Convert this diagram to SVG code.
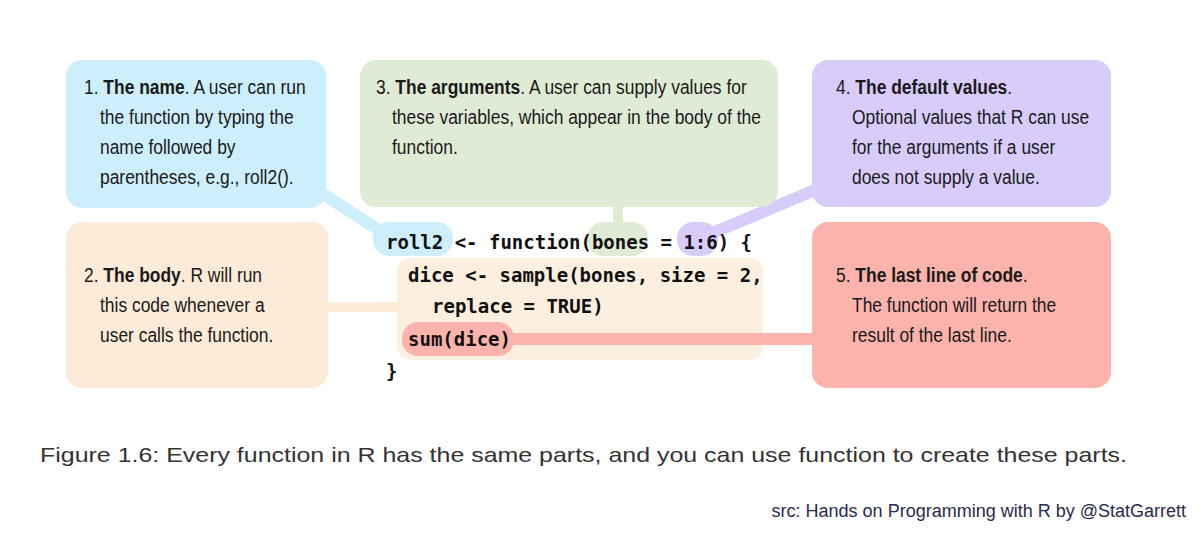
<svg xmlns="http://www.w3.org/2000/svg" width="1200" height="533" viewBox="0 0 1200 533">
<style>
.t{font-family:"Liberation Sans",Arial,sans-serif;font-size:21px;fill:#1a1a1a}
.b{font-weight:bold}
.c{font-family:"DejaVu Sans Mono",monospace;font-weight:bold;font-size:19px;fill:#111}
.cap{font-family:"Liberation Sans",Arial,sans-serif;font-size:21px;fill:#333}
.src{font-family:"Liberation Sans",Arial,sans-serif;font-size:18px;fill:#2a2a50}
</style>
<rect width="1200" height="533" fill="#fff"/>
<g id="body-block">
<rect x="397" y="258" width="366" height="102" rx="14" fill="#fdefe0"/>
</g>
<g id="connectors" fill="none" stroke-linecap="butt">
<line x1="320" y1="192" x2="385" y2="234" stroke="#cdeefb" stroke-width="12"/>
<line x1="618" y1="205" x2="618" y2="224" stroke="#e0ebd6" stroke-width="10"/>
<line x1="820" y1="188" x2="710" y2="234" stroke="#d8ccfb" stroke-width="12"/>
<line x1="326" y1="307" x2="400" y2="307" stroke="#fdebd9" stroke-width="10"/>
<line x1="510" y1="339" x2="815" y2="339" stroke="#fbb3ab" stroke-width="12"/>
</g>
<g id="code">
<rect x="373" y="222" width="80" height="34" rx="16" fill="#cdeefb"/>
<rect x="587" y="222" width="61" height="34" rx="16" fill="#e0ebd6"/>
<rect x="677" y="222" width="41" height="34" rx="16" fill="#d8ccfb"/>
<rect x="402" y="322" width="112" height="34" rx="16" fill="#fbb3ab"/>
<text class="c" x="386" y="249">roll2 &lt;- function(bones = 1:6) {</text>
<text class="c" x="408" y="282">dice &lt;- sample(bones, size = 2,</text>
<text class="c" x="432" y="313">replace = TRUE)</text>
<text class="c" x="408" y="346">sum(dice)</text>
<text class="c" x="386" y="378">}</text>
</g>
<g id="n1">
<rect x="66" y="60" width="260" height="148" rx="16" fill="#cdeefb"/>
<text class="t" transform="translate(84,94) scale(0.83,1)">1. <tspan class="b">The name</tspan>. A user can run</text>
<text class="t" transform="translate(100,124) scale(0.83,1)">the function by typing the</text>
<text class="t" transform="translate(100,154) scale(0.83,1)">name followed by</text>
<text class="t" transform="translate(100,184) scale(0.83,1)">parentheses, e.g., roll2().</text>
</g>
<g id="n3">
<rect x="360" y="60" width="418" height="147" rx="16" fill="#e0ebd6"/>
<text class="t" transform="translate(376,94) scale(0.83,1)">3. <tspan class="b">The arguments</tspan>. A user can supply values for</text>
<text class="t" transform="translate(392,124) scale(0.83,1)">these variables, which appear in the body of the</text>
<text class="t" transform="translate(392,154) scale(0.83,1)">function.</text>
</g>
<g id="n4">
<rect x="812" y="60" width="299" height="147" rx="16" fill="#d8ccfb"/>
<text class="t" transform="translate(836,94) scale(0.83,1)">4. <tspan class="b">The default values</tspan>.</text>
<text class="t" transform="translate(852,124) scale(0.83,1)">Optional values that R can use</text>
<text class="t" transform="translate(852,154) scale(0.83,1)">for the arguments if a user</text>
<text class="t" transform="translate(852,184) scale(0.83,1)">does not supply a value.</text>
</g>
<g id="n2">
<rect x="66" y="222" width="262" height="166" rx="16" fill="#fdebd9"/>
<text class="t" transform="translate(84,282) scale(0.83,1)">2. <tspan class="b">The body</tspan>. R will run</text>
<text class="t" transform="translate(100,312) scale(0.83,1)">this code whenever a</text>
<text class="t" transform="translate(100,342) scale(0.83,1)">user calls the function.</text>
</g>
<g id="n5">
<rect x="812" y="222" width="299" height="166" rx="16" fill="#fbb3ab"/>
<text class="t" transform="translate(836,282) scale(0.83,1)">5. <tspan class="b">The last line of code</tspan>.</text>
<text class="t" transform="translate(852,312) scale(0.83,1)">The function will return the</text>
<text class="t" transform="translate(852,342) scale(0.83,1)">result of the last line.</text>
</g>
<text class="cap" x="40" y="462" textLength="1087" lengthAdjust="spacingAndGlyphs">Figure 1.6: Every function in R has the same parts, and you can use function to create these parts.</text>
<text class="src" x="1186" y="517" text-anchor="end">src: Hands on Programming with R by @StatGarrett</text>
</svg>
